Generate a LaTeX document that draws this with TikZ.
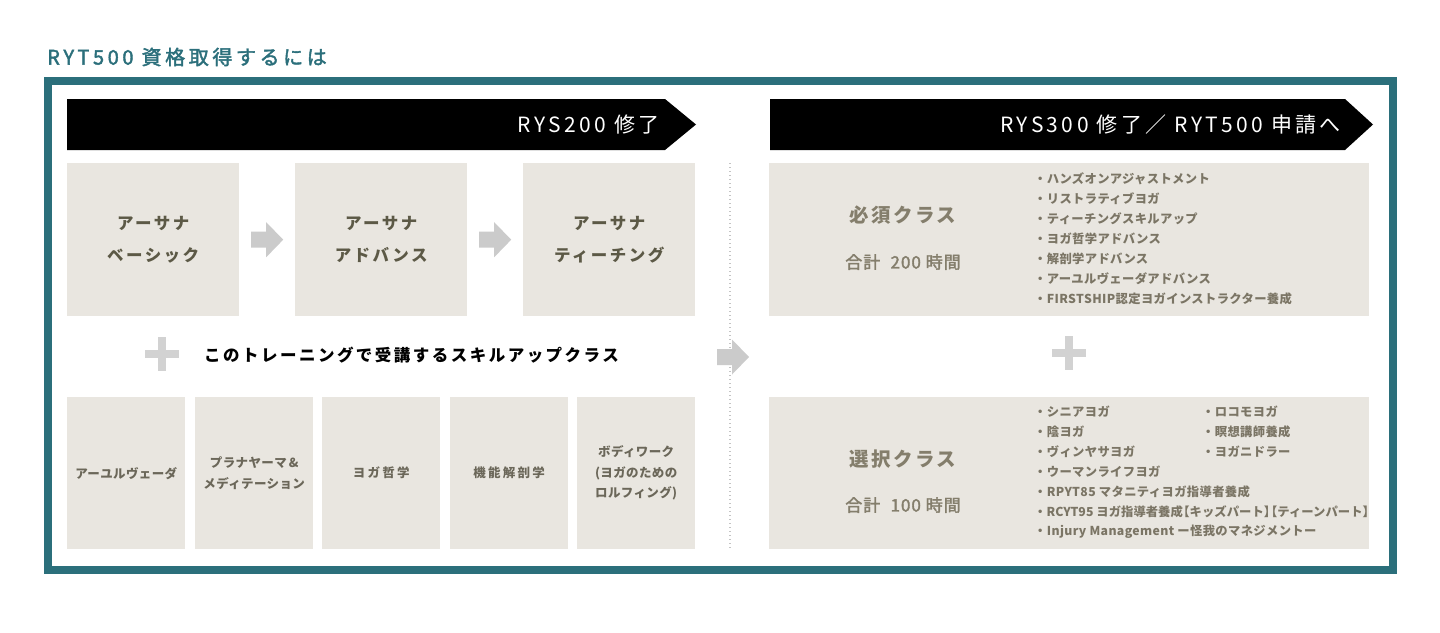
\documentclass[tikz,border=0pt]{standalone}
\usepackage{fontspec}
\usetikzlibrary{calc}
\setmainfont{Noto Sans CJK JP}
\newfontfamily\titlefont[LetterSpace=18,FakeBold=2]{Noto Sans CJK JP}
\newfontfamily\bannerfont[LetterSpace=16]{Noto Sans CJK JP}
\newfontfamily\boxfont[LetterSpace=15]{Noto Sans CJK JP}
\newfontfamily\smallfont[LetterSpace=3]{Noto Sans CJK JP}
\newfontfamily\wideSmallfont[LetterSpace=18]{Noto Sans CJK JP}
\newfontfamily\headfont[LetterSpace=12]{Noto Sans CJK JP}
\newfontfamily\sumfont[LetterSpace=6,FakeBold=2]{Noto Sans CJK JP}
\newfontfamily\listfont[LetterSpace=3]{Noto Sans CJK JP}
\newfontfamily\listtight[LetterSpace=0.5]{Noto Sans CJK JP}
\definecolor{teal}{HTML}{2B6F7B}
\definecolor{boxfill}{HTML}{E9E6E0}
\definecolor{darkolive}{HTML}{5C5946}
\definecolor{midolive}{HTML}{6B6759}
\definecolor{headolive}{HTML}{847E6C}
\definecolor{listgray}{HTML}{7B7565}
\definecolor{arrowgray}{HTML}{CBCBCB}
\definecolor{plusgray}{HTML}{D2D2D2}
\definecolor{dotgray}{HTML}{C4C4C4}
\tikzset{
  box/.style={fill=boxfill, draw=none, anchor=north west, inner sep=0pt, align=center},
  topbox/.style={box, minimum width=172pt, minimum height=153pt, text=darkolive, font=\boxfont\bfseries\fontsize{16.5}{32}\selectfont},
  lowbox/.style={box, minimum width=118pt, minimum height=152pt, text=midolive, font=\smallfont\bfseries\fontsize{12.5}{20.5}\selectfont},
  rightbox/.style={box, minimum width=600pt, minimum height=153pt},
  headtxt/.style={text=headolive, font=\headfont\bfseries\fontsize{19.5}{24}\selectfont, inner sep=0pt},
  sumtxt/.style={text=headolive, font=\sumfont\fontsize{17}{20}\selectfont, inner sep=0pt},
  listtxt/.style={text=listgray, font=\listfont\bfseries\fontsize{12.3}{14}\selectfont, anchor=west, inner sep=0pt},
  bannertxt/.style={text=white, font=\bannerfont\fontsize{21}{24}\selectfont, anchor=east, inner sep=0pt},
  blockarrow/.pic={\fill[arrowgray] (-16,-8) -- (-1,-8) -- (-1,-17.5) -- (16,0) -- (-1,17.5) -- (-1,8) -- (-16,8) -- cycle;},
  plussign/.pic={\fill[plusgray] (-17,-3.8) rectangle (17,3.8); \fill[plusgray] (-3.8,-17) rectangle (3.8,17);}
}
\begin{document}
\begin{tikzpicture}[x=1pt,y=-1pt]
\useasboundingbox (0,0) rectangle (1440,632);
\fill[white] (0,0) rectangle (1440,632);

% title
\node[anchor=west, inner sep=0pt, text=teal, font=\titlefont\fontsize{20}{22}\selectfont] (title) at (47,57) {RYT500 資格取得するには};

% frame
\draw[teal, line width=8pt] (48,81) rectangle (1393,570);

% banners
\fill[black] (67,99) -- (665,99) -- (696,124.5) -- (665,150) -- (67,150) -- cycle;
\node[bannertxt] (ban1) at (660,125) {RYS200 修了};
\fill[black] (770,99) -- (1345,99) -- (1373,124.5) -- (1345,150) -- (770,150) -- cycle;
\node[bannertxt] (ban2) at (1341,125) {RYS300 修了／ RYT500 申請へ};

% top row boxes
\node[topbox] (b1) at (67,163) {アーサナ\\ベーシック};
\node[topbox] (b2) at (295,163) {アーサナ\\アドバンス};
\node[topbox] (b3) at (523,163) {アーサナ\\ティーチング};
\pic at ($(b1.east)!0.5!(b2.west)$) {blockarrow};
\pic at ($(b2.east)!0.5!(b3.west)$) {blockarrow};

% middle row
\pic at (162,354) {plussign};
\node[anchor=west, inner sep=0pt, text=black, font=\boxfont\bfseries\fontsize{16.5}{20}\selectfont] (skill) at (204,355) {このトレーニングで受講するスキルアップクラス};

% bottom row boxes
\node[lowbox] (c1) at (67,397) {アーユルヴェーダ};
\node[lowbox] (c2) at (195,397) {プラナヤーマ\,\&\\メディテーション};
\node[lowbox, font=\wideSmallfont\bfseries\fontsize{12.5}{20.5}\selectfont] (c3) at (322,397) {ヨガ哲学};
\node[lowbox, font=\wideSmallfont\bfseries\fontsize{12.5}{20.5}\selectfont] (c4) at (450,397) {機能解剖学};
\node[lowbox] (c5) at (577,397) {ボディワーク\\(ヨガのための\\ロルフィング)};

% divider and arrow
\coordinate (dtop) at (730,163);
\coordinate (dbot) at (730,549);
\draw[dotgray, line width=1.3pt, dash pattern=on 1.3pt off 2.7pt] (dtop) -- (dbot);
\coordinate (midarrow) at (733,357);
\pic at (midarrow) {blockarrow};

% right boxes
\node[rightbox] (r1) at (769,163) {};
\node[rightbox, minimum height=152pt] (r2) at (769,397) {};
\pic at (1069,353) {plussign};

\node[headtxt] (h1) at (903,215) {必須クラス};
\node[sumtxt] (s1) at (903,262) {合計\hspace{0.6em}200 時間};
\node[headtxt] (h2) at (903,459) {選択クラス};
\node[sumtxt] (s2) at (903,505) {合計\hspace{0.6em}100 時間};

\foreach \t [count=\i] in {ハンズオンアジャストメント, リストラティブヨガ, ティーチングスキルアップ, ヨガ哲学アドバンス, 解剖学アドバンス, アーユルヴェーダアドバンス, FIRSTSHIP認定ヨガインストラクター養成}
  \node[listtxt] (la\i) at (1034,159+20*\i) {・\t};

\foreach \t [count=\i] in {シニアヨガ, 陰ヨガ, ヴィンヤサヨガ, ウーマンライフヨガ, RPYT85 マタニティヨガ指導者養成, {\listtight RCYT95 ヨガ指導者養成\kern-0.45em【キッズパート】\kern-0.9em【ティーンパート】}, Injury Management ー怪我のマネジメントー}
  \node[listtxt] (lb\i) at (1034,392+20*\i) {・\t};

\foreach \t [count=\i] in {ロコモヨガ, 瞑想講師養成, ヨガニドラー}
  \node[listtxt] (lc\i) at (1202,392+20*\i) {・\t};
\end{tikzpicture}
\end{document}
